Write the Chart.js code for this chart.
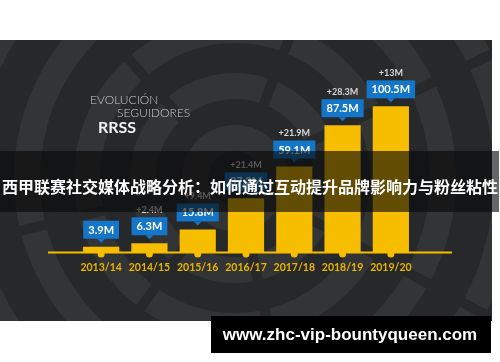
<!DOCTYPE html>
<html>
<head>
<meta charset="utf-8">
<script src="https://cdn.jsdelivr.net/npm/chart.js@4"></script>
<style>
  html, body { margin: 0; padding: 0; background: #fff; }
  canvas { display: block; }
</style>
</head>
<body>
<canvas id="followersChart" width="500" height="362"></canvas>
<script>
// Season labels and follower totals (millions)
const seasons = ['2013/14', '2014/15', '2015/16', '2016/17', '2017/18', '2018/19', '2019/20'];
const followers = [3.9, 6.3, 15.8, 37.2, 59.1, 87.5, 100.5];
const valueLabels = ['3.9M', '6.3M', '15.8M', '37.2M', '59.1M', '87.5M', '100.5M'];
const growthLabels = ['', '+2.4M', '+9.4M', '+21.4M', '+21.9M', '+28.3M', '+13M'];

const titleLines = ['EVOLUCIÓN', 'SEGUIDORES', 'RRSS'];
const bannerText = '西甲联赛社交媒体战略分析：如何通过互动提升品牌影响力与粉丝粘性';
const siteText = 'www.zhc-vip-bountyqueen.com';

const YELLOW = '#f7be00';
const BLUE = '#1476c8';

// Dark panel, rings and the title block
const backdrop = {
    id: 'backdrop',
    beforeDraw(chart) {
        const ctx = chart.ctx;
        ctx.save();
        ctx.fillStyle = '#ffffff';
        ctx.fillRect(0, 0, chart.width, chart.height);
        ctx.fillStyle = '#27282a';
        ctx.fillRect(0, 40, 492, 281);
        ctx.beginPath();
        ctx.rect(0, 40, 492, 281);
        ctx.clip();

        // concentric rings in the background
        const cx = 235, cy = 178;
        ctx.strokeStyle = 'rgba(255,255,255,0.06)';
        ctx.lineWidth = 26;
        [40, 92, 148, 208, 272, 340].forEach(r => {
            ctx.beginPath();
            ctx.arc(cx, cy, r, 0, Math.PI * 2);
            ctx.stroke();
        });
        // radial breaks
        ctx.strokeStyle = '#27282a';
        ctx.lineWidth = 10;
        [-2.3, -1.2, -0.45, 0.5, 1.35, 2.2, 2.9].forEach(a => {
            ctx.beginPath();
            ctx.moveTo(cx + Math.cos(a) * 60, cy + Math.sin(a) * 60);
            ctx.lineTo(cx + Math.cos(a) * 420, cy + Math.sin(a) * 420);
            ctx.stroke();
        });
        ctx.restore();

        // title
        ctx.save();
        ctx.textBaseline = 'middle';
        ctx.fillStyle = '#c9c9c9';
        ctx.font = '300 12px Lato';
        ctx.fillText(titleLines[0], 90, 100);
        ctx.fillText(titleLines[1], 117, 113);
        ctx.fillStyle = '#f2f2f2';
        ctx.font = 'bold 16px Lato';
        ctx.fillText(titleLines[2], 98, 128);
        ctx.restore();
    }
};

// Baseline, value boxes and growth labels
const barLabels = {
    id: 'barLabels',
    afterDatasetsDraw(chart) {
        const ctx = chart.ctx;
        const area = chart.chartArea;
        const base = chart.scales.y.getPixelForValue(0);
        const bars = chart.getDatasetMeta(0).data;
        ctx.save();

        // yellow baseline with small dots
        ctx.strokeStyle = YELLOW;
        ctx.lineWidth = 2;
        ctx.beginPath();
        ctx.moveTo(area.left - 29, base);
        ctx.lineTo(area.right + 37, base);
        ctx.stroke();
        ctx.fillStyle = YELLOW;
        bars.forEach(bar => {
            ctx.beginPath();
            ctx.arc(bar.x, base + 1.5, 3.5, 0, Math.PI * 2);
            ctx.fill();
        });

        ctx.textAlign = 'center';
        ctx.textBaseline = 'middle';
        bars.forEach((bar, i) => {
            ctx.font = 'bold 11px Lato';
            const w = ctx.measureText(valueLabels[i]).width + 10;
            const h = 18;
            const bottom = bar.y - 8;
            const top = bottom - h;
            ctx.fillStyle = BLUE;
            ctx.fillRect(bar.x - w / 2, top, w, h);
            ctx.beginPath();
            ctx.moveTo(bar.x - 4, bottom);
            ctx.lineTo(bar.x + 4, bottom);
            ctx.lineTo(bar.x, bottom + 4);
            ctx.closePath();
            ctx.fill();
            ctx.fillStyle = '#ffffff';
            ctx.fillText(valueLabels[i], bar.x, top + h / 2 + 0.5);

            if (growthLabels[i]) {
                ctx.font = 'bold 9px Lato';
                ctx.fillStyle = '#d6d6d6';
                ctx.fillText(growthLabels[i], bar.x, top - 7);
            }
        });
        ctx.restore();
    },
    afterDraw(chart) {
        const ctx = chart.ctx;
        ctx.save();
        // translucent banner with the Chinese headline
        ctx.fillStyle = 'rgba(8,8,8,0.62)';
        ctx.fillRect(0, 151, 499, 61);
        ctx.fillStyle = '#ffffff';
        ctx.font = 'bold 16px "Noto Sans CJK SC"';
        ctx.textAlign = 'center';
        ctx.textBaseline = 'middle';
        ctx.fillText(bannerText, 250, 187);

        // site box at the bottom
        ctx.fillStyle = '#000000';
        ctx.fillRect(211, 316, 280, 37);
        ctx.fillStyle = '#ffffff';
        ctx.font = 'bold 17px "Liberation Sans"';
        ctx.fillText(siteText, 350, 335);
        ctx.restore();
    }
};

new Chart(document.getElementById('followersChart').getContext('2d'), {
    type: 'bar',
    data: {
        labels: seasons,
        datasets: [{
            label: 'Seguidores',
            data: followers,
            backgroundColor: YELLOW,
            borderWidth: 0,
            barPercentage: 0.75,
            categoryPercentage: 1.0
        }]
    },
    options: {
        responsive: false,
        animation: false,
        layout: { padding: { left: 77, right: 85, top: 78, bottom: 79 } },
        plugins: {
            legend: { display: false },
            tooltip: { enabled: false }
        },
        scales: {
            x: {
                grid: { display: false, drawTicks: false },
                border: { display: false },
                ticks: {
                    color: '#e9b500',
                    font: { family: 'Lato', weight: 'bold', size: 10.5 },
                    padding: 9
                }
            },
            y: {
                display: false,
                min: 0,
                max: 120
            }
        }
    },
    plugins: [backdrop, barLabels]
});
</script>
</body>
</html>
